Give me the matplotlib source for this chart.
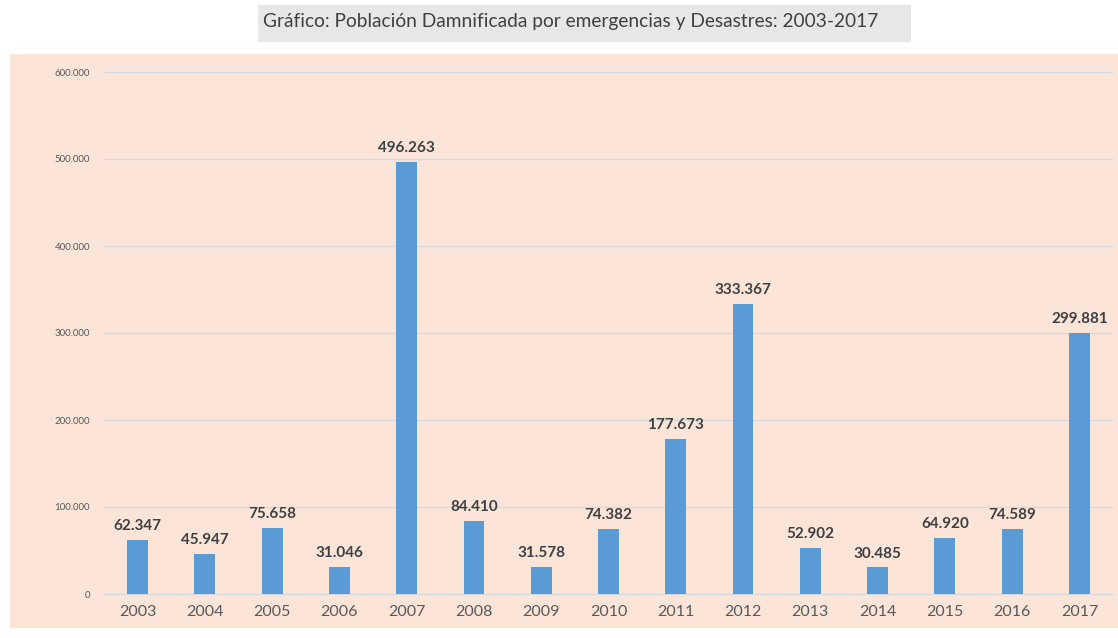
import matplotlib.pyplot as plt
from matplotlib.patches import Rectangle
from matplotlib.ticker import FuncFormatter

# --- Data -------------------------------------------------------------------
years = ["2003", "2004", "2005", "2006", "2007", "2008", "2009", "2010",
         "2011", "2012", "2013", "2014", "2015", "2016", "2017"]
damnificados = [62347, 45947, 75658, 31046, 496263, 84410, 31578, 74382,
                177673, 333367, 52902, 30485, 64920, 74589, 299881]

TITLE = "Gráfico: Población Damnificada por emergencias y Desastres: 2003-2017"

BAR_COLOR = "#5B9BD5"
PANEL_BG = "#FAE5D8"
W, H = 1118, 638

plt.rcParams["font.family"] = ["Lato", "DejaVu Sans"]


def thousands(v, _pos=None):
    return f"{int(round(v)):,}".replace(",", ".")


def fig_rect(x0, y0, x1, y1, color):
    """Rectangle in pixel coords (top-left origin) on the figure."""
    return Rectangle((x0 / W, 1 - y1 / H), (x1 - x0) / W, (y1 - y0) / H,
                     transform=fig.transFigure, facecolor=color,
                     edgecolor="none", zorder=-10)


fig = plt.figure(figsize=(W / 100, H / 100), dpi=100)

# peach panel behind the chart, grey box behind the title
fig.patches.append(fig_rect(10, 54, W, 628, PANEL_BG))
fig.patches.append(fig_rect(258, 5, 911, 42, "#E7E7E7"))
fig.text(571 / W, 1 - 22 / H, TITLE, ha="center", va="center", fontsize=13.8,
         color="#404040")

ax = fig.add_axes([104 / W, 1 - 594 / H, (1113 - 104) / W, (594 - 72) / H])
ax.set_facecolor("none")

x = range(len(years))
ax.bar(x, damnificados, width=0.31, color=BAR_COLOR, zorder=3)
for xi, v in zip(x, damnificados):
    ax.annotate(thousands(v), (xi, v), xytext=(0, 5), textcoords="offset points",
                ha="center", va="bottom", fontsize=11, fontweight="bold",
                color="#404040")

ax.set_xlim(-0.5, len(years) - 0.5)
ax.set_ylim(0, 600000)
ax.set_yticks(range(0, 600001, 100000))
ax.yaxis.set_major_formatter(FuncFormatter(thousands))
ax.set_xticks(list(x))
ax.set_xticklabels(years)

ax.grid(axis="y", color="#D6D9DF", linewidth=1, zorder=0)
for s in ["top", "right", "left"]:
    ax.spines[s].set_visible(False)
ax.spines["bottom"].set_color("#D6D9DF")
ax.tick_params(axis="y", length=0, labelsize=7, labelcolor="#595959", pad=10)
ax.tick_params(axis="x", length=0, labelsize=11.5, labelcolor="#595959", pad=8)

fig.savefig("out.png", dpi=100)
